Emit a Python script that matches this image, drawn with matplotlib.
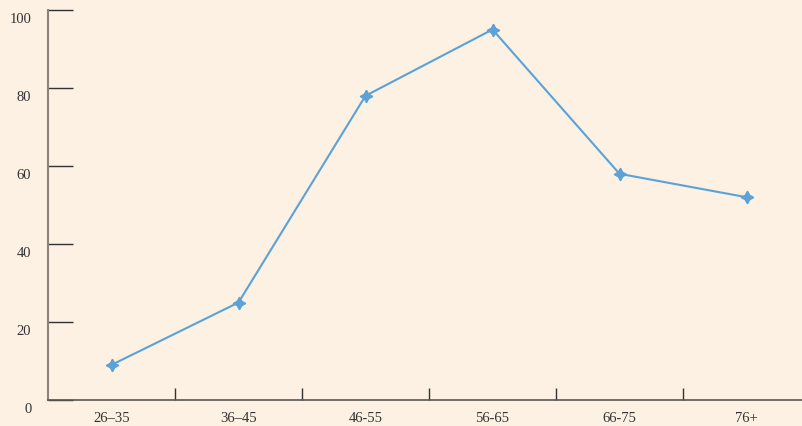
import numpy as np
import matplotlib.pyplot as plt
from matplotlib.transforms import ScaledTranslation

# Data
age_groups = ['26–35', '36–45', '46-55', '56-65', '66-75', '76+']
values = [9, 25, 78, 95, 58, 52]
y_ticks = [0, 20, 40, 60, 80, 100]

bg = '#fcf1e2'
line_color = '#5aa2d8'

plt.rcParams['font.family'] = ['Liberation Serif', 'DejaVu Serif']

fig = plt.figure(figsize=(8.02, 4.26), dpi=100, facecolor=bg)
W, H = 802, 426
ax = fig.add_axes([48 / W, 26 / H, 762 / W, 390 / H], facecolor=bg)

x = np.arange(len(age_groups))
ax.plot(x, values, color=line_color, lw=1.5, marker=(4, 1, 0), ms=9,
        mfc=line_color, mec=line_color, zorder=3)

ax.set_xlim(-0.5, len(age_groups) - 0.5)
ax.set_ylim(0, 100)

for s in ['top', 'right']:
    ax.spines[s].set_visible(False)
ax.spines['left'].set_color('#8c837b')
ax.spines['left'].set_linewidth(1.5)
ax.spines['bottom'].set_color('#5a5550')
ax.spines['bottom'].set_linewidth(1.2)

# category labels sit in the middle of each band, ticks on the band edges
ax.set_xticks(x)
ax.set_xticklabels(age_groups, fontsize=10.5, color='#333333')
ax.tick_params(axis='x', length=0, pad=9)
ax.set_xticks(np.arange(0.5, len(age_groups) - 0.5, 1), minor=True)
ax.tick_params(axis='x', which='minor', direction='in', length=9, width=1,
               color='#333333')

ax.set_yticks(y_ticks)
ax.set_yticklabels([str(v) for v in y_ticks], fontsize=10.5, color='#333333')
ax.tick_params(axis='y', direction='in', length=18, width=1, color='#333333', pad=12)
shift = ScaledTranslation(0, -8 / 100, fig.dpi_scale_trans)
for lbl in ax.get_yticklabels():
    lbl.set_transform(lbl.get_transform() + shift)

fig.savefig('out.png', dpi=100, facecolor=bg)
